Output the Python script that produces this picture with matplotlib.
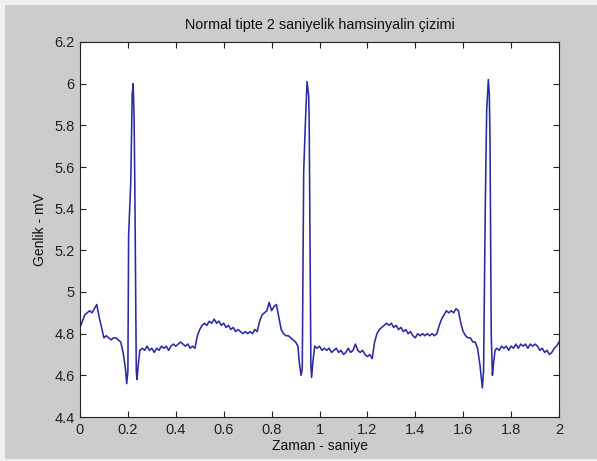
import matplotlib
matplotlib.use("Agg")
import matplotlib.pyplot as plt
from matplotlib.patches import Rectangle

# Time axis (s) and amplitude (mV) of the sampled signal
t_s = [
    0.00, 0.01, 0.02, 0.03, 0.04, 0.05, 0.06, 0.07, 0.08, 0.09,
    0.10, 0.11, 0.12, 0.13, 0.14, 0.15, 0.16, 0.17, 0.18, 0.19,
    0.195, 0.200, 0.203, 0.212, 0.218, 0.222, 0.226, 0.229, 0.235, 0.238, 0.244,
    0.25, 0.26, 0.27, 0.28, 0.29, 0.30, 0.31, 0.32, 0.33, 0.34,
    0.35, 0.36, 0.37, 0.38, 0.39, 0.40, 0.41, 0.42, 0.43, 0.44,
    0.45, 0.46, 0.47, 0.48, 0.49, 0.50, 0.51, 0.52, 0.53, 0.54,
    0.55, 0.56, 0.57, 0.58, 0.59, 0.60, 0.61, 0.62, 0.63, 0.64,
    0.65, 0.66, 0.67, 0.68, 0.69, 0.70, 0.71, 0.72, 0.73, 0.74,
    0.75, 0.76, 0.77, 0.78, 0.79, 0.80, 0.81, 0.82, 0.83, 0.84,
    0.85, 0.86, 0.87, 0.88, 0.89, 0.90, 0.91,
    0.915, 0.923, 0.928, 0.934, 0.941, 0.948, 0.955, 0.957, 0.959, 0.964, 0.967, 0.972,
    0.98, 0.99, 1.00, 1.01, 1.02, 1.03, 1.04, 1.05, 1.06, 1.07,
    1.08, 1.09, 1.10, 1.11, 1.12, 1.13, 1.14, 1.15, 1.16, 1.17,
    1.18, 1.19, 1.20, 1.21, 1.22, 1.23, 1.24, 1.25, 1.26, 1.27,
    1.28, 1.29, 1.30, 1.31, 1.32, 1.33, 1.34, 1.35, 1.36, 1.37,
    1.38, 1.39, 1.40, 1.41, 1.42, 1.43, 1.44, 1.45, 1.46, 1.47,
    1.48, 1.49, 1.50, 1.51, 1.52, 1.53, 1.54, 1.55, 1.56, 1.57,
    1.58, 1.59, 1.60, 1.61, 1.62, 1.63, 1.64, 1.65, 1.66, 1.67,
    1.68, 1.685, 1.692, 1.698, 1.705, 1.709, 1.712, 1.717, 1.722, 1.727, 1.733,
    1.74, 1.75, 1.76, 1.77, 1.78, 1.79, 1.80, 1.81, 1.82, 1.83,
    1.84, 1.85, 1.86, 1.87, 1.88, 1.89, 1.90, 1.91, 1.92, 1.93,
    1.94, 1.95, 1.96, 1.97, 1.98, 1.99, 2.00,
]

genlik_mv = [
    4.83, 4.86, 4.89, 4.90, 4.91, 4.90, 4.92, 4.94, 4.88, 4.83,
    4.78, 4.79, 4.78, 4.77, 4.78, 4.78, 4.77, 4.76, 4.71, 4.63,
    4.56, 4.62, 5.27, 5.53, 5.95, 6.00, 5.83, 5.50, 4.62, 4.58, 4.66,
    4.72, 4.73, 4.72, 4.74, 4.72, 4.73, 4.71, 4.73, 4.72, 4.74,
    4.73, 4.74, 4.72, 4.74, 4.75, 4.74, 4.75, 4.76, 4.75, 4.74,
    4.75, 4.73, 4.74, 4.73, 4.79, 4.82, 4.84, 4.85, 4.84, 4.86,
    4.85, 4.87, 4.85, 4.86, 4.84, 4.85, 4.83, 4.84, 4.82, 4.83,
    4.81, 4.82, 4.81, 4.80, 4.81, 4.80, 4.81, 4.80, 4.82, 4.81,
    4.86, 4.89, 4.90, 4.91, 4.95, 4.91, 4.93, 4.94, 4.88, 4.82,
    4.80, 4.79, 4.79, 4.78, 4.77, 4.76, 4.74,
    4.67, 4.60, 4.63, 5.58, 5.81, 6.01, 5.94, 5.81, 5.48, 4.65, 4.59, 4.66,
    4.74, 4.73, 4.74, 4.72, 4.73, 4.72, 4.73, 4.71, 4.72, 4.73,
    4.71, 4.72, 4.70, 4.71, 4.73, 4.71, 4.72, 4.75, 4.72, 4.71,
    4.72, 4.70, 4.69, 4.70, 4.68, 4.76, 4.80, 4.82, 4.83, 4.84,
    4.85, 4.84, 4.85, 4.83, 4.84, 4.82, 4.83, 4.81, 4.82, 4.80,
    4.81, 4.79, 4.78, 4.80, 4.79, 4.80, 4.79, 4.80, 4.79, 4.80,
    4.79, 4.80, 4.84, 4.87, 4.89, 4.91, 4.90, 4.91, 4.90, 4.92,
    4.91, 4.85, 4.81, 4.79, 4.78, 4.78, 4.76, 4.76, 4.73, 4.65,
    4.54, 4.62, 5.39, 5.87, 6.02, 5.95, 5.72, 4.80, 4.60, 4.66, 4.72,
    4.73, 4.72, 4.74, 4.73, 4.74, 4.72, 4.74, 4.73, 4.75, 4.73,
    4.75, 4.74, 4.75, 4.73, 4.75, 4.74, 4.75, 4.74, 4.72, 4.73,
    4.71, 4.72, 4.70, 4.71, 4.73, 4.74, 4.76,
]

x_ticks = [0, 0.2, 0.4, 0.6, 0.8, 1.0, 1.2, 1.4, 1.6, 1.8, 2.0]
x_tick_labels = ["0", "0.2", "0.4", "0.6", "0.8", "1", "1.2", "1.4", "1.6", "1.8", "2"]
y_ticks = [4.4, 4.6, 4.8, 5.0, 5.2, 5.4, 5.6, 5.8, 6.0, 6.2]
y_tick_labels = ["4.4", "4.6", "4.8", "5", "5.2", "5.4", "5.6", "5.8", "6", "6.2"]

plt.rcParams["font.family"] = ["Liberation Sans", "DejaVu Sans"]

W, H = 597, 461
fig = plt.figure(figsize=(W / 100, H / 100), dpi=100, facecolor="#f0f0f0")
# grey figure panel behind the axes
fig.patches.append(Rectangle((5 / W, 2 / H), (W - 5) / W, (H - 7) / H,
                             transform=fig.transFigure, facecolor="#cccccc",
                             edgecolor="none", zorder=-10))

ax = fig.add_axes([80 / W, (H - 417) / H, 479 / W, 375 / H])
ax.set_zorder(5)
ax.set_facecolor("white")
ax.plot(t_s, genlik_mv, color="#2a2aa2", linewidth=1.15)

ax.set_xlim(0, 2)
ax.set_ylim(4.4, 6.2)
ax.set_xticks(x_ticks)
ax.set_xticklabels(x_tick_labels)
ax.set_yticks(y_ticks)
ax.set_yticklabels(y_tick_labels)
ax.tick_params(direction="in", length=4, width=0.8, colors="#222222",
               labelsize=10.5, top=True, right=True, pad=4)
for sp in ax.spines.values():
    sp.set_color("#222222")
    sp.set_linewidth(0.8)

ax.set_title("Normal tipte 2 saniyelik hamsinyalin çizimi", fontsize=10.4,
             color="#111111", pad=9)
ax.set_xlabel("Zaman - saniye", fontsize=10, color="#111111", labelpad=2)
ax.set_ylabel("Genlik - mV", fontsize=10, color="#111111", labelpad=5)

fig.savefig("out.png", dpi=100, facecolor=fig.get_facecolor())
